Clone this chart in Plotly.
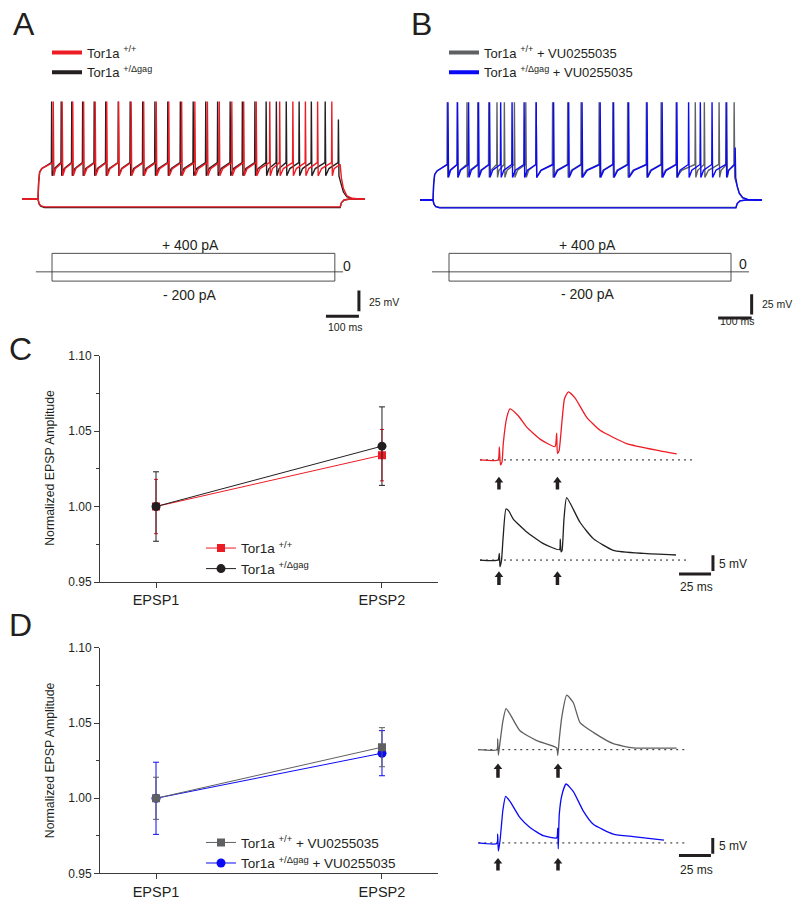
import plotly.graph_objects as go

W, H = 800, 909
FONT = "Liberation Sans, Arial, Helvetica, sans-serif"
RED = "#ED1C24"
BLACK = "#231F20"
GRAY = "#5F6062"
BLUE = "#0A0AF5"
AXC = "#3A3A3A"

# ======================= DATA =======================
# Panels C / D : normalized EPSP amplitude (mean, SEM)
epsp_labels = ["EPSP1", "EPSP2"]
epsp_pos = [0, 1]
c_wt_mean = [1.000, 1.034]
c_wt_err = [0.018, 0.017]
c_dg_mean = [1.000, 1.040]
c_dg_err = [0.023, 0.026]
d_wt_mean = [1.000, 1.034]
d_wt_err = [0.014, 0.013]
d_dg_mean = [1.000, 1.030]
d_dg_err = [0.024, 0.015]

y_ticks = [0.95, 1.00, 1.05, 1.10]
y_ticktext = ["0.95", "1.00", "1.05", "1.10"]
y_minor = [0.975, 1.025, 1.075]

# Panel A : current-clamp sweeps (ms, mV)
a_t_end = 1039
a_step_on = 48.5
a_step_off = 964
a_levels = dict(rest=-70, thr=-26, peak=48, trough=-42, plat=-33)
a_red_hyp = -79.5
a_blk_hyp = -80.3
a_red_spikes = [94, 121, 153, 186, 221, 256, 292, 330, 368, 406, 444, 483, 523,
                561, 597, 635, 671, 709, 750, 780, 820, 858, 895, 938]
a_blk_spikes = [89, 118, 150, 183, 218, 253, 291, 327, 365, 402, 441, 479, 518,
                556, 592, 630, 667, 705, 739, 770, 800, 839, 876, 918, 958]
a_blk_partial_peak = 26

# Panel B : current-clamp sweeps (ms, mV)
b_t_end = 1021
b_step_on = 38.8
b_step_off = 943
b_levels = dict(rest=-70, thr=-26, peak=51, trough=-42, plat=-34)
b_gry_hyp = -79.3
b_blu_hyp = -79.8
b_gry_spikes = [80.6, 110.4, 139.4, 171.6, 204.5, 229, 251, 281, 315, 346, 395, 440,
                480, 534, 575, 619, 675, 719, 764, 821, 848, 892, 915, 937]
b_blu_spikes = [82.7, 111.3, 144.2, 174, 206.9, 240, 274, 310, 346, 398, 443, 483,
                537, 577, 622, 677, 722, 766, 801, 836, 871, 913, 940]
b_blu_partial_peak = -5

# Current step protocol (ms, pA)
stim_levels = [400, -200]
a_stim_on, a_stim_off = 91, 948
a_zero_t = [42, 973]
b_stim_on, b_stim_off = 86.6, 928.4
b_zero_t = [35.8, 982]

# Panel C / D example EPSP pairs (ms, mV relative to baseline)
c_red_t = [0, 14.1, 15.1, 16.0, 17.2, 18.2, 20.9, 23.4, 29.7, 36.5, 46.9, 58.6, 59.9,
           60.5, 61.7, 64.1, 66.0, 69.0, 74.2, 83.4, 93.8, 114.6, 140.6, 153.7]
c_red_v = [0, 0, 4.1, -1.6, -0.6, 5.3, 13.4, 16.2, 14.1, 10.4, 6.6, 4.2, 8.5,
           2.1, 2.8, 12.5, 19.4, 21.6, 19.7, 13.5, 9.4, 5.2, 2.9, 1.9]
c_blk_t = [0, 14.1, 15.1, 15.6, 16.8, 18.0, 20.3, 22.5, 26.0, 36.5, 49.5, 62.1, 62.7,
           63.3, 64.1, 65.6, 67.7, 78.1, 88.5, 104.1, 127.6, 153.1]
c_blk_v = [0, 0, 2.1, -2.1, -0.1, 6.8, 16.2, 15.6, 13.0, 8.9, 5.2, 3.3, 6.6,
           2.6, 3.0, 13.0, 19.8, 12.0, 6.8, 3.1, 2.1, 1.6]
d_gry_t = [0.2, 14.8, 15.4, 15.9, 17.2, 19.5, 21.9, 25.0, 32.8, 45.9, 61.5, 62.3, 63.5,
           65.6, 69.3, 74.5, 79.7, 90.1, 105.7, 121.3, 155.2]
d_gry_v = [0, 0, 3.4, -1.8, 2.3, 9.2, 13.0, 11.3, 6.0, 2.9, 0.6, -1.8, 3.4,
           10.7, 17.3, 14.9, 8.6, 5.5, 1.9, 0.6, 0.5]
d_blu_t = [0.2, 14.8, 15.4, 15.9, 17.2, 19.5, 21.6, 25.0, 32.8, 40.6, 51.0, 61.5, 62.3,
           62.7, 63.5, 65.6, 68.8, 74.5, 82.3, 90.1, 105.7, 121.3, 145.3]
d_blu_v = [0, -0.2, 2.8, -2.6, 0.7, 10.6, 14.8, 13.2, 8.0, 4.9, 2.3, 1.6, 4.7,
           -1.9, 9.1, 15.3, 18.7, 16.3, 10.1, 5.9, 2.8, 2.0, 0.9]
c_stim_ms = [14.8, 60.5]
d_stim_ms = [15.6, 62.5]
c_base_end = [166, 161]
d_base_end = [162, 162]

# scale bars
sweep_bar_ms, sweep_bar_mv = 100, 25
epsp_bar_ms, epsp_bar_mv = 25, 5

# ======================= HELPERS =======================
layout = {}


def axn(prefix, i):
    return prefix if i == 1 else f"{prefix}{i}"


def hidden_axes(ix, iy, box, x0px, sx, y0px, y0val, sy):
    left, right, top, bottom = box
    layout[axn("xaxis", ix)] = dict(domain=[left / W, right / W],
                                    range=[(left - x0px) / sx, (right - x0px) / sx],
                                    visible=False, anchor=axn("y", iy), fixedrange=True)
    layout[axn("yaxis", iy)] = dict(domain=[1 - bottom / H, 1 - top / H],
                                    range=[y0val - (bottom - y0px) / sy, y0val + (y0px - top) / sy],
                                    visible=False, anchor=axn("x", ix), fixedrange=True)


def overlay_y(iy, over, box, y0px, sy):
    left, right, top, bottom = box
    layout[axn("yaxis", iy)] = dict(overlaying=axn("y", over),
                                    range=[-(bottom - y0px) / sy, (y0px - top) / sy],
                                    visible=False, fixedrange=True)


def sweep_depol(t_end, t_on, t_off, spikes, lv, partial_peak=None):
    rest, thr, peak, trough, plat = lv["rest"], lv["thr"], lv["peak"], lv["trough"], lv["plat"]
    ts = [0.0, t_on, t_on + 2, t_on + 5, t_on + 12]
    vs = [rest, rest, rest + 0.55 * (plat - rest), rest + 0.88 * (plat - rest), plat]
    n = len(spikes)
    for i, s in enumerate(spikes):
        pk = partial_peak if (partial_peak is not None and i == n - 1) else peak
        nxt = spikes[i + 1] if i + 1 < n else t_off
        ts += [s, s + 0.8, s + 2.4]
        vs += [thr, pk, trough]
        gap = nxt - s
        if gap > 8:
            ts.append(s + 0.3 * gap)
            vs.append(trough + 0.55 * (thr - trough))
    if t_off - spikes[-1] > 8:
        ts.append(t_off)
        vs.append(thr - 2)
    v0 = vs[-1]
    for dt, f in zip([4, 10, 20, 35, 60], [0.6, 0.3, 0.1, 0.02, 0.0]):
        ts.append(t_off + dt)
        vs.append(rest + f * (v0 - rest))
    ts.append(t_end)
    vs.append(rest)
    return ts, vs


def sweep_hyp(t_end, t_on, t_off, rest, hyp):
    ts = [0, t_on, t_on + 3, t_on + 8, t_on + 20, t_off, t_off + 4, t_off + 12, t_off + 30, t_end]
    vs = [rest, rest, rest + 0.55 * (hyp - rest), rest + 0.85 * (hyp - rest), hyp, hyp,
          rest + 0.45 * (hyp - rest), rest + 0.12 * (hyp - rest), rest, rest]
    return ts, vs


def full_sweep(t_end, t_on, t_off, spikes, lv, hyp, partial=None):
    t1, v1 = sweep_depol(t_end, t_on, t_off, spikes, lv, partial)
    t2, v2 = sweep_hyp(t_end, t_on, t_off, lv["rest"], hyp)
    return t1 + [None] + t2, v1 + [None] + v2


def ann(text, px, py, size, xanchor="center", yanchor="middle", color=BLACK, angle=0):
    return dict(text=text, x=px / W, y=1 - py / H, xref="paper", yref="paper",
                showarrow=False, xanchor=xanchor, yanchor=yanchor, textangle=angle,
                font=dict(family=FONT, size=size, color=color))


fig = go.Figure()


def line(x, y, xa, ya, color, width, dash=None):
    fig.add_trace(go.Scatter(x=x, y=y, xaxis=xa, yaxis=ya, mode="lines",
                             line=dict(color=color, width=width, dash=dash),
                             showlegend=False, hoverinfo="skip"))


# ======================= AXES =======================
A_BOX = (0, 400, 78, 340)
B_BOX = (400, 800, 78, 340)
hidden_axes(1, 1, A_BOX, 22, 0.33, 195, -70, 0.84)
overlay_y(2, 1, A_BOX, 269, 0.047)
hidden_axes(2, 3, B_BOX, 420, 0.335, 196, -70, 0.82)
overlay_y(4, 3, B_BOX, 269, 0.047)

hidden_axes(5, 7, (470, 720, 380, 500), 480, 1.28, 460, 0, 3.2)
hidden_axes(6, 8, (470, 770, 490, 600), 480, 1.28, 561.7, 0, 3.2)
hidden_axes(7, 9, (470, 720, 690, 790), 478, 1.28, 754.3, 0, 3.2)
hidden_axes(8, 10, (470, 770, 780, 885), 478, 1.28, 849, 0, 3.2)

common_x = dict(showline=True, linecolor=AXC, linewidth=1, ticks="outside", ticklen=5,
                tickwidth=1, tickcolor=AXC, showgrid=False, zeroline=False,
                tickvals=epsp_pos, ticktext=epsp_labels, range=[-0.248, 1.248],
                tickfont=dict(family=FONT, size=14.5, color=BLACK), fixedrange=True)
common_y = dict(showline=True, linecolor=AXC, linewidth=1, ticks="outside", ticklen=5,
                tickwidth=1, tickcolor=AXC, showgrid=False, zeroline=False,
                tickvals=y_ticks, ticktext=y_ticktext, range=[0.95, 1.10],
                minor=dict(tickvals=y_minor, ticks="outside", ticklen=3, tickcolor=AXC),
                tickfont=dict(family=FONT, size=12, color=BLACK), fixedrange=True)
layout["xaxis3"] = dict(common_x, domain=[100 / W, 438 / W], anchor="y5")
layout["yaxis5"] = dict(common_y, domain=[1 - 584 / H, 1 - 354 / H], anchor="x3")
layout["xaxis4"] = dict(common_x, domain=[100 / W, 438 / W], anchor="y6")
layout["yaxis6"] = dict(common_y, domain=[1 - 880 / H, 1 - 651 / H], anchor="x4")

# ======================= PANEL A =======================
t, v = full_sweep(a_t_end, a_step_on, a_step_off, a_blk_spikes, a_levels, a_blk_hyp, a_blk_partial_peak)
line(t, v, "x", "y", BLACK, 1.4)
t, v = full_sweep(a_t_end, a_step_on, a_step_off, a_red_spikes, a_levels, a_red_hyp)
line(t, v, "x", "y", RED, 1.4)
# stimulus
line([a_stim_on, a_stim_on, a_stim_off, a_stim_off, a_stim_on],
     [stim_levels[1], stim_levels[0], stim_levels[0], stim_levels[1], stim_levels[1]],
     "x", "y2", AXC, 0.9)
line(a_zero_t, [0, 0], "x", "y2", AXC, 0.9)
# scale bars
line([1021, 1021], [-180.7, -180.7 - sweep_bar_mv], "x", "y", BLACK, 3)
line([1021 - sweep_bar_ms, 1021], [-211.7, -211.7], "x", "y", BLACK, 3)

# ======================= PANEL B =======================
t, v = full_sweep(b_t_end, b_step_on, b_step_off, b_gry_spikes, b_levels, b_gry_hyp)
line(t, v, "x2", "y3", GRAY, 1.4)
t, v = full_sweep(b_t_end, b_step_on, b_step_off, b_blu_spikes, b_levels, b_blu_hyp, b_blu_partial_peak)
line(t, v, "x2", "y3", BLUE, 1.4)
line([b_stim_on, b_stim_on, b_stim_off, b_stim_off, b_stim_on],
     [stim_levels[1], stim_levels[0], stim_levels[0], stim_levels[1], stim_levels[1]],
     "x2", "y4", AXC, 0.9)
line(b_zero_t, [0, 0], "x2", "y4", AXC, 0.9)
line([990, 990], [-186.7, -186.7 - sweep_bar_mv], "x2", "y3", BLACK, 3)
line([990 - sweep_bar_ms, 990], [-216.3, -216.3], "x2", "y3", BLACK, 3)

# legend entries for A / B
for name, col, lg in [("Tor1a <sup>+/+</sup>", RED, "legend"),
                      ("Tor1a <sup>+/Δgag</sup>", BLACK, "legend"),
                      ("Tor1a <sup>+/+</sup> + VU0255035", GRAY, "legend2"),
                      ("Tor1a <sup>+/Δgag</sup> + VU0255035", BLUE, "legend2")]:
    fig.add_trace(go.Scatter(x=[None], y=[None], xaxis="x", yaxis="y", mode="lines",
                             line=dict(color=col, width=4), name=name, legend=lg))


# ======================= PANEL C / D summary =======================
def summary(mean, err, col, sym, size, xa, ya, name, lg, rank, capw):
    fig.add_trace(go.Scatter(x=epsp_pos, y=mean, xaxis=xa, yaxis=ya, mode="lines+markers",
                             line=dict(color=col, width=1),
                             marker=dict(symbol=sym, size=size, color=col),
                             error_y=dict(type="data", array=err, visible=True, color=col,
                                          thickness=1, width=capw),
                             name=name, legend=lg, legendrank=rank, hoverinfo="skip"))


summary(c_wt_mean, c_wt_err, RED, "square", 8, "x3", "y5", "Tor1a <sup>+/+</sup>", "legend3", 1, 2)
summary(c_dg_mean, c_dg_err, BLACK, "circle", 9, "x3", "y5", "Tor1a <sup>+/Δgag</sup>", "legend3", 2, 3)
summary(d_dg_mean, d_dg_err, BLUE, "circle", 9, "x4", "y6", "Tor1a <sup>+/Δgag</sup> + VU0255035", "legend4", 2, 3)
summary(d_wt_mean, d_wt_err, GRAY, "square", 8, "x4", "y6", "Tor1a <sup>+/+</sup> + VU0255035", "legend4", 1, 3)


# ======================= EPSP example traces =======================
def epsp(tt, vv, col, xa, ya, base_end, stims, tip, base):
    line([tt[0], base_end], [0, 0], xa, ya, BLACK, 1, dash="2px,4px")
    fig.add_trace(go.Scatter(x=tt, y=vv, xaxis=xa, yaxis=ya, mode="lines",
                             line=dict(color=col, width=1.3, shape="spline", smoothing=0.5),
                             showlegend=False, hoverinfo="skip"))
    for s in stims:
        line([s, s], [base, tip - 1.25], xa, ya, BLACK, 3.5)
        fig.add_trace(go.Scatter(x=[s], y=[tip - 1.25], xaxis=xa, yaxis=ya, mode="markers",
                                 marker=dict(symbol="triangle-up", size=7.5, color=BLACK),
                                 showlegend=False, hoverinfo="skip"))


epsp(c_red_t, c_red_v, RED, "x5", "y7", c_base_end[0], c_stim_ms, -5.3, -9.4)
epsp(c_blk_t, c_blk_v, BLACK, "x6", "y8", c_base_end[1], c_stim_ms, -3.5, -7.9)
epsp(d_gry_t, d_gry_v, GRAY, "x7", "y9", d_base_end[0], d_stim_ms, -4.3, -8.9)
epsp(d_blu_t, d_blu_v, BLUE, "x8", "y10", d_base_end[1], d_stim_ms, -4.7, -8.75)
# scale bars
line([182, 182], [1.5, 1.5 - epsp_bar_mv], "x6", "y8", BLACK, 3)
line([155.5, 155.5 + epsp_bar_ms], [-4.4, -4.4], "x6", "y8", BLACK, 3)
line([183.4, 183.4], [1.6, 1.6 - epsp_bar_mv], "x8", "y10", BLACK, 3)
line([157, 157 + epsp_bar_ms], [-4.0, -4.0], "x8", "y10", BLACK, 3)

# ======================= TEXT =======================
annotations = [
    ann("A", 23.5, 17, 32), ann("B", 421, 17, 32),
    ann("C", 20.5, 347, 32), ann("D", 20.5, 628, 32),
    ann("+ 400 pA", 190, 242, 14), ann("- 200 pA", 190, 292, 14), ann("0", 341, 263.5, 14, "left"),
    ann("+ 400 pA", 587.5, 241.5, 14), ann("- 200 pA", 587.5, 291.5, 14), ann("0", 737, 261.5, 14, "left"),
    ann("25 mV", 367, 300, 10.5, "left"), ann("100 ms", 344.5, 325, 10.5),
    ann("25 mV", 760, 302, 10.5, "left"), ann("100 ms", 737, 319, 10.5),
    ann("5 mV", 717, 566, 12, "left"), ann("25 ms", 696, 589, 12),
    ann("5 mV", 716.5, 852.5, 12, "left"), ann("25 ms", 696, 876, 12),
    ann("Normalized EPSP Amplitude", 50, 468, 12.3, angle=-90),
    ann("Normalized EPSP Amplitude", 50, 765, 12.3, angle=-90),
]


def legend_cfg(px, py, size):
    return dict(x=px / W, y=1 - py / H, xanchor="left", yanchor="top", bgcolor="rgba(0,0,0,0)",
                borderwidth=0, tracegroupgap=0, font=dict(family=FONT, size=size, color=BLACK),
                itemclick=False, itemdoubleclick=False)


layout.update(
    width=W, height=H, margin=dict(l=0, r=0, t=0, b=0),
    paper_bgcolor="white", plot_bgcolor="rgba(0,0,0,0)",
    font=dict(family=FONT, color=BLACK),
    annotations=annotations,
    legend=legend_cfg(47, 31, 13),
    legend2=legend_cfg(444, 31, 13),
    legend3=legend_cfg(201, 534, 13.5),
    legend4=legend_cfg(201, 833, 13.5),
    hovermode=False,
)
fig.update_layout(**layout)
fig.write_html("out.html", config={"displayModeBar": False},
               post_script="document.body.style.margin='0';")
